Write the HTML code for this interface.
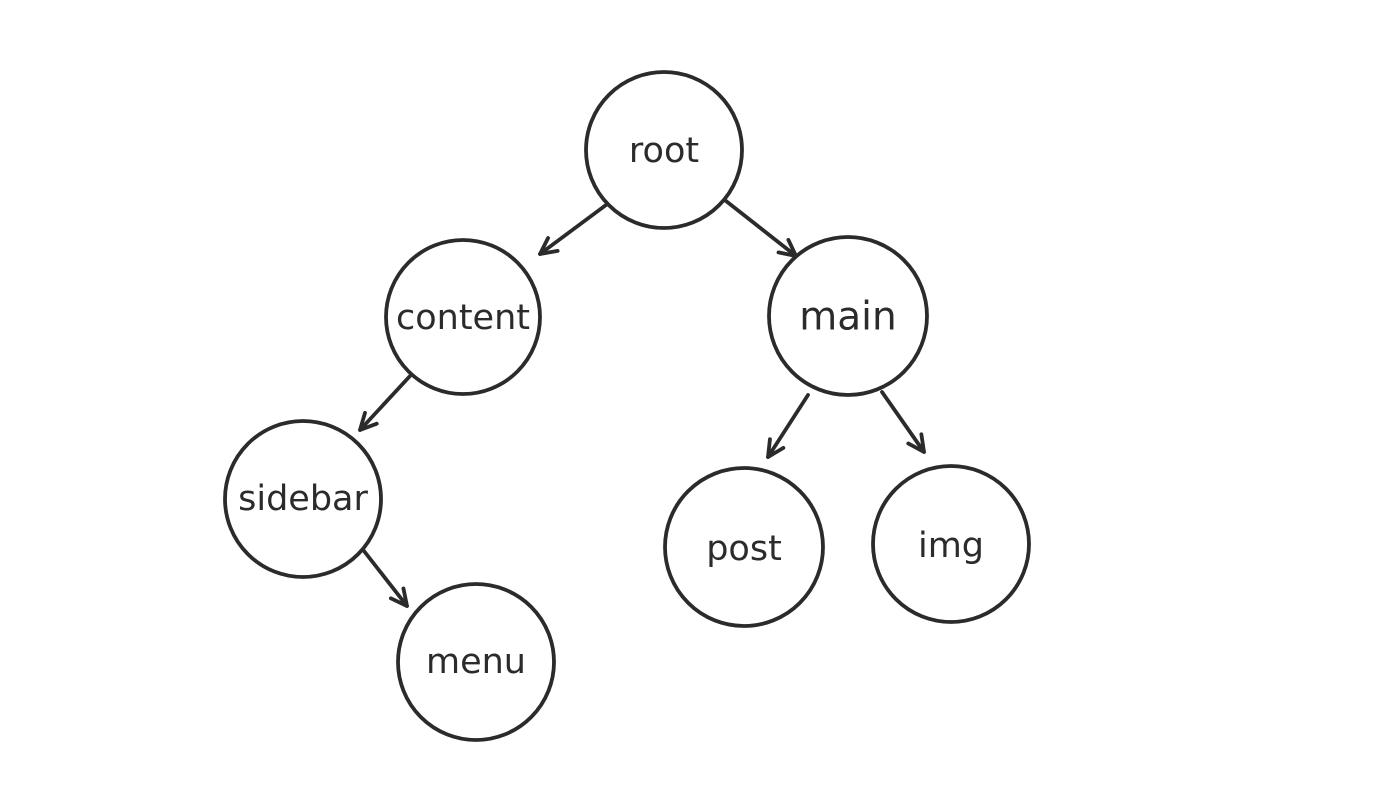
<!DOCTYPE html>
<html><head><style>
html,body{margin:0;padding:0;background:#fff;}
svg{display:block;}
text{font-family:"DejaVu Sans","Liberation Sans",sans-serif;font-size:35px;fill:#2b2b2b;text-anchor:middle;dominant-baseline:central;}
</style></head><body>
<svg width="1400" height="787" viewBox="0 0 1400 787" xmlns="http://www.w3.org/2000/svg">
<defs>
<marker id="a" viewBox="0 0 20 20" refX="18" refY="10" markerWidth="20" markerHeight="20" markerUnits="userSpaceOnUse" orient="auto">
<path d="M2,2 L18,10 L2,18" fill="none" stroke="#2b2b2b" stroke-width="3.8" stroke-linecap="round" stroke-linejoin="round"/>
</marker>
</defs>
<g fill="none" stroke="#2b2b2b" stroke-width="3.8" stroke-linecap="round">
<circle cx="664" cy="150" r="78"/>
<circle cx="463" cy="317" r="77"/>
<circle cx="848" cy="316" r="79"/>
<circle cx="303" cy="499" r="78"/>
<circle cx="476" cy="662" r="78"/>
<circle cx="744" cy="547" r="79"/>
<circle cx="951" cy="544" r="78"/>
<line x1="606" y1="205" x2="540" y2="254" marker-end="url(#a)"/>
<line x1="726" y1="201" x2="796" y2="256" marker-end="url(#a)"/>
<line x1="410" y1="376" x2="360" y2="430" marker-end="url(#a)"/>
<line x1="364" y1="551" x2="407" y2="606" marker-end="url(#a)"/>
<line x1="808" y1="395" x2="768" y2="457" marker-end="url(#a)"/>
<line x1="882" y1="392" x2="924" y2="452" marker-end="url(#a)"/>
</g>
<text x="664" y="151">root</text>
<text x="463" y="318">content</text>
<text x="848" y="317" style="font-size:39px">main</text>
<text x="303" y="499">sidebar</text>
<text x="476" y="662">menu</text>
<text x="744" y="549">post</text>
<text x="951" y="546">img</text>
</svg>
</body></html>
